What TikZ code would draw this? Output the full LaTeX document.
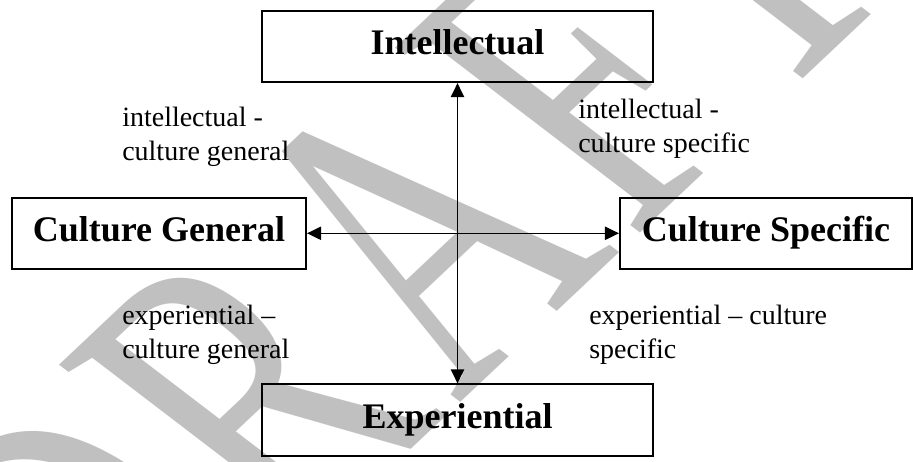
\documentclass[tikz,border=0pt]{standalone}
\usepackage{fontspec}
\setmainfont{Liberation Serif}
\usetikzlibrary{arrows.meta}
\definecolor{WatermarkGray}{RGB}{192,192,192}

\begin{document}
\begin{tikzpicture}[
		x=0.025cm, y=-0.025cm,
		framed/.style={draw, line width=1.4pt, minimum height=1.78cm, inner sep=0pt, text height=0.65cm, text depth=0.25cm, font=\fontsize{25.6pt}{30pt}\selectfont\bfseries},
		corner/.style={align=left, anchor=base west, inner sep=0pt, font=\fontsize{19.9pt}{23.5pt}\selectfont},
		axis/.style={{Triangle[length=0.35cm, width=0.33cm]}-{Triangle[length=0.35cm, width=0.33cm]}, line width=1.1pt}
	]
	\useasboundingbox (0,0) rectangle (913,461);
	\clip (0,0) rectangle (913,461);

	\begin{scope}[shift={(392.1,258)}]
		\node[transform shape, yscale=0.849, rotate=48, text=WatermarkGray, inner sep=0pt, font=\fontsize{356pt}{356pt}\selectfont] (draft) at (0,0) {\scalebox{0.673}[1]{D\kern0.05em R\kern0.05em A\kern0.05em F\kern0.05em T}};
	\end{scope}

	\node[framed, minimum width=9.75cm] (intellectual) at (457.5,46.5) {Intellectual};
	\node[framed, minimum width=9.75cm] (experiential) at (457.5,420) {Experiential};
	\node[framed, minimum width=7.35cm] (general) at (159,233.3) {Culture General};
	\node[framed, minimum width=7.3cm] (specific) at (766,233.3) {Culture Specific};

	\node[corner] (intgeneral) at (122,160) {intellectual -\\culture general};
	\node[corner] (intspecific) at (578,152) {intellectual -\\culture specific};
	\node[corner] (expgeneral) at (122,358) {experiential –\\culture general};
	\node[corner] (expspecific) at (589,358) {experiential – culture\\specific};

	\draw[axis] (intellectual) -- (experiential);
	\draw[axis] (general) -- (specific);
\end{tikzpicture}
\end{document}
